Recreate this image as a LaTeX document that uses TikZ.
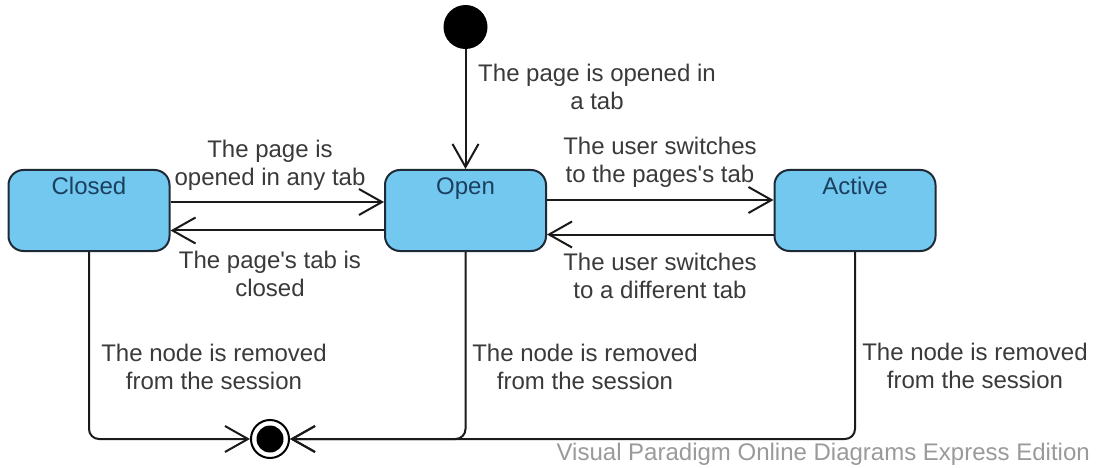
\documentclass[tikz,border=0pt]{standalone}
\usepackage{fontspec}
\setmainfont{Liberation Sans}
\usetikzlibrary{arrows.meta}
\definecolor{boxfill}{HTML}{73C8F0}
\definecolor{boxline}{HTML}{1E2A36}
\definecolor{statetext}{HTML}{1B3F5E}
\definecolor{lbltext}{HTML}{3A3A3A}
\definecolor{linecol}{HTML}{1A1A1A}
\definecolor{wmtext}{HTML}{9A9A9A}
\begin{document}
\begin{tikzpicture}[x=1pt,y=-1pt,
  font=\fontsize{24}{28}\selectfont,
  statebox/.style={draw=boxline, line width=2pt, fill=boxfill, rounded corners=15pt,
    minimum width=161pt, minimum height=81pt, inner sep=0pt},
  statename/.style={text=statetext, anchor=base, inner sep=0pt},
  lbl/.style={text=lbltext, align=center, inner sep=0pt},
  arr/.style={draw=linecol, line width=2pt, -{Straight Barb[length=23pt,width=26pt,line width=2pt]}},
]
\useasboundingbox (0,0) rectangle (1096,468);
\fill[white] (0,0) rectangle (1096,468);

% states
\node[statebox] (closed) at (89,210.5) {};
\node[statebox] (open)   at (465.5,210.5) {};
\node[statebox] (active) at (855,210.5) {};
\node[statename] (closedname) at (89,194.5) {Closed};
\node[statename] (openname)   at (465.5,194.5) {Open};
\node[statename] (activename) at (855,194.5) {Active};

% initial and final
\node[circle, fill=black, minimum size=44pt, inner sep=0pt] (init) at (465.5,27) {};
\node[circle, draw=black, fill=white, line width=2pt, minimum size=38pt, inner sep=0pt,
  path picture={\fill[black] (path picture bounding box.center) circle (13.5pt);}] (final) at (270,439) {};

% transitions
\draw[arr] (init.south) -- (open.north);
\draw[arr] ([yshift=8.5pt]closed.east) -- ([yshift=8.5pt]open.west);
\draw[arr] ([yshift=-20pt]open.west) -- ([yshift=-20pt]closed.east);
\draw[arr] ([yshift=10.5pt]open.east) -- ([yshift=10.5pt]active.west);
\draw[arr] ([yshift=-24pt]active.west) -- ([yshift=-24pt]open.east);
\draw[arr, rounded corners=10pt] (closed.south) |- (final.west);
\draw[arr, rounded corners=10pt] (open.south) |- (final.east);
\draw[arr, rounded corners=10pt] (active.south) |- (final.east);

% labels
\node[lbl] (initlbl) at (597,87) {The page is opened in\\a tab};
\node[lbl] (c2olbl) at (270,165) {The page is\\opened in any tab};
\node[lbl] (o2clbl) at (270,274) {The page\textquotesingle s tab is\\closed};
\node[lbl] (o2albl) at (660,162) {The user switches\\to the pages\textquotesingle s tab};
\node[lbl] (a2olbl) at (660,276) {The user switches\\to a different tab};
\node[lbl] (crmlbl) at (214,367) {The node is removed\\from the session};
\node[lbl] (ormlbl) at (585,367) {The node is removed\\from the session};
\node[lbl] (armlbl) at (975,366) {The node is removed\\from the session};

% watermark
\node[text=wmtext, anchor=east, inner sep=0pt] (wm) at (1090,454) {Visual Paradigm Online Diagrams Express Edition};
\end{tikzpicture}
\end{document}
